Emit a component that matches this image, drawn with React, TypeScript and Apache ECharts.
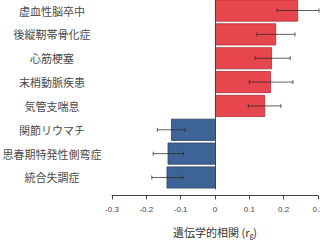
import React, { useEffect, useRef } from "react";
import * as echarts from "echarts";

const categories = [
  "虚血性脳卒中",
  "後縦靭帯骨化症",
  "心筋梗塞",
  "末梢動脈疾患",
  "気管支喘息",
  "関節リウマチ",
  "思春期特発性側弯症",
  "統合失調症",
];
const values = [0.242, 0.178, 0.166, 0.163, 0.146, -0.128, -0.138, -0.141];
const errLow = [0.181, 0.122, 0.117, 0.1, 0.097, -0.168, -0.18, -0.184];
const errHigh = [0.303, 0.233, 0.219, 0.227, 0.192, -0.087, -0.092, -0.094];
const xTicks = [-0.3, -0.2, -0.1, 0, 0.1, 0.2, 0.3];

export default function App() {
  const ref = useRef<HTMLDivElement>(null);
  useEffect(() => {
    if (!ref.current) return;
    const chart = echarts.init(ref.current, null, { renderer: "svg" });
    const font = "'Noto Sans CJK JP', 'Noto Sans', sans-serif";
    chart.setOption({
      animation: false,
      grid: {
        left: 112,
        right: 2,
        top: -1.4,
        bottom: 50.6,
        containLabel: false,
        outerBoundsMode: "none",
      },
      xAxis: {
        type: "value",
        min: -0.3,
        max: 0.3,
        interval: 0.1,
        offset: 6,
        axisLine: { show: true, lineStyle: { color: "#444", width: 1 } },
        axisTick: { show: true, length: 4, lineStyle: { color: "#444" } },
        splitLine: { show: false },
        axisLabel: {
          color: "#444",
          fontSize: 8,
          fontFamily: "Liberation Sans, Arial, sans-serif",
          margin: 10,
          hideOverlap: false,
          showMaxLabel: true,
          showMinLabel: true,
          formatter: (v: number) => {
            const r = Math.round(v * 10) / 10;
            if (!xTicks.includes(r)) return "";
            return r === 0 ? "0" : String(r);
          },
        },
        name: "遺伝学的相関 (r{sub|g})",
        nameLocation: "middle",
        nameGap: 30,
        nameTextStyle: {
          color: "#333",
          fontSize: 11,
          fontFamily: font,
          lineHeight: 13,
          rich: { sub: { fontSize: 7, lineHeight: 13, verticalAlign: "bottom", padding: [3, 0, 0, 0], color: "#333" } },
        },
      },
      yAxis: {
        type: "category",
        data: categories,
        inverse: true,
        axisLine: { show: false, onZero: false },
        axisTick: { show: false },
        axisLabel: {
          color: "#4a4a4a",
          fontSize: 11,
          fontFamily: font,
          align: "center",
          margin: 60,
        },
      },
      series: [
        {
          type: "bar",
          data: values.map((v) => ({
            value: v,
            itemStyle: {
              color: v >= 0 ? "#E8464E" : "#3E6497",
              borderColor: v >= 0 ? "#B02E35" : "#25406A",
              borderWidth: 0.8,
            },
          })),
          barWidth: 22,
          markLine: {
            silent: true,
            symbol: "none",
            label: { show: false },
            lineStyle: { color: "#444", type: "solid", width: 1 },
            data: [{ xAxis: 0 }],
          },
        },
        {
          type: "custom",
          data: categories.map((_, i) => [i, errLow[i], errHigh[i]]),
          encode: { y: 0, x: [1, 2] },
          renderItem: (params: any, api: any) => {
            const idx = api.value(0);
            const lo = api.coord([api.value(1), idx]);
            const hi = api.coord([api.value(2), idx]);
            const h = 2;
            const style = { stroke: "rgba(40,40,40,0.75)", lineWidth: 1 };
            return {
              type: "group",
              children: [
                { type: "line", shape: { x1: lo[0], y1: lo[1], x2: hi[0], y2: hi[1] }, style },
                { type: "line", shape: { x1: lo[0], y1: lo[1] - h, x2: lo[0], y2: lo[1] + h }, style },
                { type: "line", shape: { x1: hi[0], y1: hi[1] - h, x2: hi[0], y2: hi[1] + h }, style },
              ],
            };
          },
          z: 5,
        },
      ],
    });
    return () => chart.dispose();
  }, []);
  return <div ref={ref} style={{ width: 320, height: 240, position: "absolute", left: 0, top: 0, background: "#fff" }} />;
}
